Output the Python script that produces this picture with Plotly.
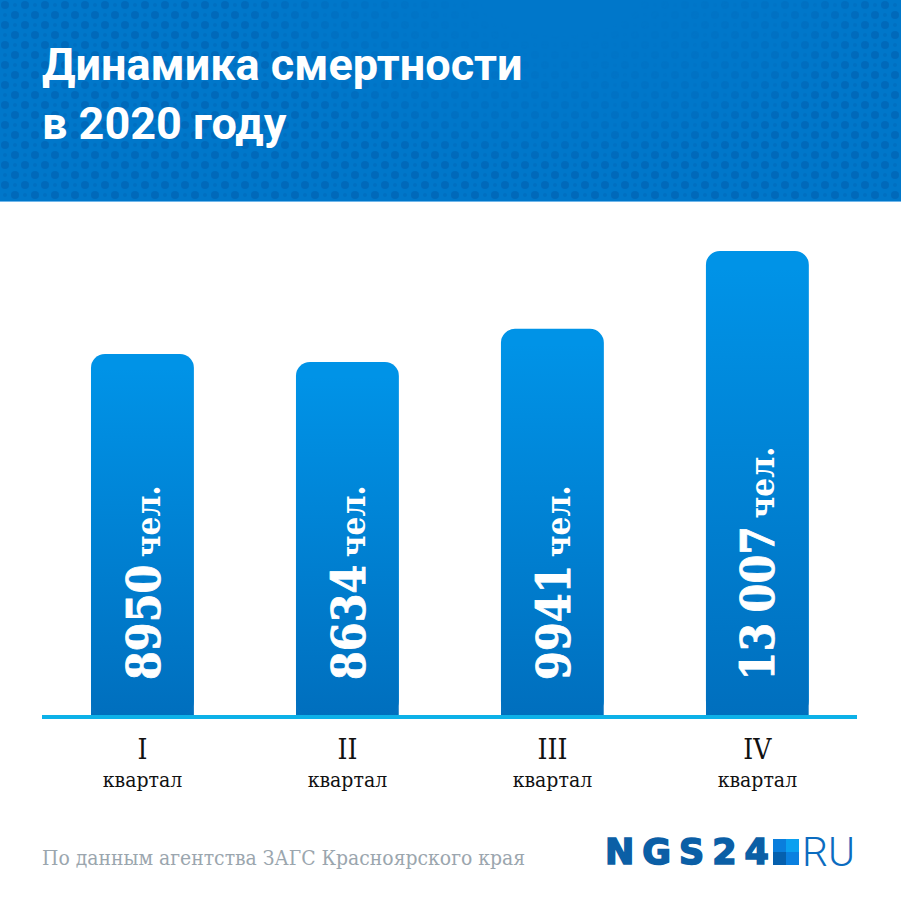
import base64
import plotly.graph_objects as go

W = 901
H = 900
M_L, M_R, M_T, M_B = 42, 44, 201, 185

quarters = ['I', 'II', 'III', 'IV']
deaths = [8950, 8634, 9941, 13007]
death_labels = ['8950', '8634', '9941', '13 007']
unit_label = 'чел.'
tick_word = 'квартал'
title_lines = ['Динамика смертности', 'в 2020 году']
source_text = 'По данным агентства ЗАГС Красноярского края'

# the bars in the picture don't start at zero, axis floor is read off the heights
y_floor = -5268
y_top = 14976

SLAB = 'DejaVu Serif Condensed, DejaVu Serif, serif'


def px(x):
    return (x - M_L) / (W - M_L - M_R)


def py(y):
    return (H - M_B - y) / (H - M_T - M_B)


def svg_uri(svg):
    return 'data:image/svg+xml;base64,' + base64.b64encode(svg.encode()).decode()


# dotted header, dots fade out in the upper middle
header_svg = f'''<svg xmlns="http://www.w3.org/2000/svg" width="{W}" height="201" viewBox="0 0 {W} 201" preserveAspectRatio="none">
<defs>
<pattern id="d" width="20" height="20" patternUnits="userSpaceOnUse">
<circle cx="5" cy="5" r="4" fill="#0069ba"/><circle cx="15" cy="15" r="4" fill="#0069ba"/>
<circle cx="15" cy="5" r="2" fill="#006fc1"/><circle cx="5" cy="15" r="2" fill="#006fc1"/>
</pattern>
<radialGradient id="g" gradientUnits="userSpaceOnUse" cx="560" cy="-10" r="330" gradientTransform="translate(560 -10) scale(1 .55) translate(-560 10)">
<stop offset="0.25" stop-color="#000"/><stop offset="0.75" stop-color="#777"/><stop offset="1" stop-color="#fff"/>
</radialGradient>
<mask id="m"><rect width="{W}" height="201" fill="url(#g)"/></mask>
</defs>
<rect width="{W}" height="201" fill="#0077ca"/>
<rect width="{W}" height="201" fill="url(#d)" mask="url(#m)"/>
</svg>'''

# darkening goes over the solid bars, from clear at the top to #0070c0 at the base
bar_shade_svg = '''<svg xmlns="http://www.w3.org/2000/svg" width="100" height="100" viewBox="0 0 100 100" preserveAspectRatio="none">
<defs><linearGradient id="s" x1="0" y1="0" x2="0" y2="1">
<stop offset="0.03" stop-color="#006fbe" stop-opacity="0"/><stop offset="1" stop-color="#006fbe" stop-opacity="1"/>
</linearGradient></defs>
<rect width="100" height="100" fill="url(#s)"/>
</svg>'''

fig = go.Figure()
fig.add_trace(go.Bar(
    x=quarters,
    y=[v - y_floor for v in deaths],
    base=y_floor,
    marker=dict(color='#0093e7', line=dict(width=0), cornerradius=14),
    width=0.502,
    hoverinfo='skip',
))

images = [dict(source=svg_uri(header_svg), xref='paper', yref='paper', x=px(0), y=py(0),
               sizex=px(W) - px(0), sizey=py(0) - py(201), xanchor='left', yanchor='top',
               sizing='stretch', layer='above')]
for i, v in enumerate(deaths):
    images.append(dict(source=svg_uri(bar_shade_svg), xref='x', yref='y', x=i, y=v - 120,
                       sizex=0.502, sizey=v - 120 - y_floor, xanchor='center', yanchor='top',
                       sizing='stretch', layer='above'))

annotations = [dict(text='<br>'.join(title_lines), xref='paper', yref='paper', x=px(40), y=py(36),
                    xanchor='left', yanchor='top', align='left', showarrow=False,
                    font=dict(family='Roboto', size=45, color='white', weight=700))]
for i, lab in enumerate(death_labels):
    # tighter word gaps than the font gives, and a bit of stroke to fatten the digits
    num = lab.replace(' ', '<span style="letter-spacing:-4px"> </span>')
    annotations.append(dict(
        text=f'<span style="stroke:white;stroke-width:0.8px">{num}</span>'
             f'<span style="font-size:24px"> </span><span style="font-size:33px">{unit_label}</span>',
        xref='x', yref='paper', x=i, y=py(682), xanchor='center', yanchor='bottom', xshift=1,
        textangle=-90, showarrow=False,
        font=dict(family=SLAB, size=46, color='white', weight=700)))
annotations.append(dict(text=source_text, xref='paper', yref='paper', x=px(40), y=py(858),
                        xanchor='left', yanchor='middle', showarrow=False,
                        font=dict(family=SLAB, size=20.9, color='#9ba6ae')))
annotations.append(dict(text='<span style="letter-spacing:8px;stroke:#0b5fa6;stroke-width:1.6px">NGS24</span>',
                        xref='paper', yref='paper', x=px(603), y=py(852), xanchor='left', yanchor='middle',
                        showarrow=False, font=dict(family='DejaVu Sans', size=35, color='#0b5fa6', weight=700)))
annotations.append(dict(text='RU', xref='paper', yref='paper', x=px(800), y=py(852), xanchor='left',
                        yanchor='middle', showarrow=False,
                        font=dict(family='Roboto', size=41, color='#0b6cc0', weight=300)))

# logo square
logo_cells = [(773, 786, 839, 852, '#0a7edc'), (786, 799, 839, 852, '#0aa0f0'),
              (773, 786, 852, 865, '#0560ae'), (786, 799, 852, 865, '#0a80e0')]
shapes = [dict(type='rect', xref='paper', yref='paper', x0=px(a), x1=px(b), y0=py(d), y1=py(c),
               fillcolor=col, line=dict(width=0)) for a, b, c, d, col in logo_cells]
# thin light edge under the header
shapes.append(dict(type='rect', xref='paper', yref='paper', x0=px(0), x1=px(W), y0=py(202), y1=py(201),
                   fillcolor='#6fb6ea', line=dict(width=0)))

fig.update_layout(
    width=W, height=H,
    margin=dict(l=M_L, r=M_R, t=M_T, b=M_B, pad=0),
    paper_bgcolor='white', plot_bgcolor='white',
    showlegend=False,
    images=images, annotations=annotations, shapes=shapes,
    xaxis=dict(type='category', range=[-0.49, 3.486], showline=True, linecolor='#0db1e8', linewidth=4,
               showgrid=False, zeroline=False, ticks='', tickvals=quarters,
               ticktext=[f'<span style="font-size:28px">{q}</span><br>{tick_word}' for q in quarters],
               tickfont=dict(family=SLAB, size=21, color='#111111'), ticklabelstandoff=15),
    yaxis=dict(range=[y_floor, y_top], visible=False),
)

fig.write_html('out.html', config={'displayModeBar': False},
               post_script='document.body.style.margin = "0";')
